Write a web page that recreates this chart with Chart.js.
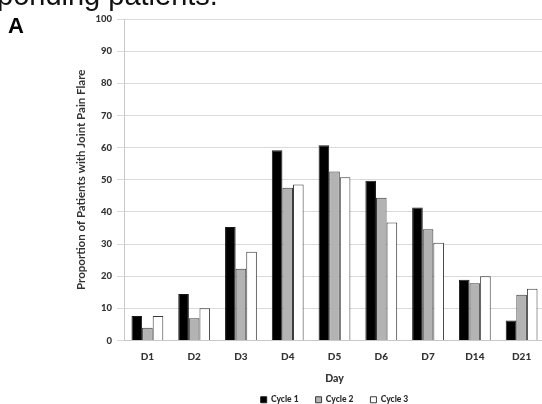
<!DOCTYPE html>
<html>
<head>
<meta charset="utf-8">
<script src="https://cdn.jsdelivr.net/npm/chart.js@4.4.1/dist/chart.umd.min.js"></script>
<style>
  html, body { margin: 0; padding: 0; background: #fff; width: 542px; height: 404px; overflow: hidden; }
  #wrap { position: absolute; left: 0; top: 0; width: 548px; height: 414px; }
  #cap { position: absolute; left: -3px; top: -19px; font-family: "Liberation Sans", Arial, sans-serif; font-size: 29px; color: #111; white-space: nowrap; line-height: 29px; }
  #lab { position: absolute; left: 8px; top: 14.5px; font-family: "Liberation Sans", Arial, sans-serif; font-weight: bold; font-size: 22px; color: #000; line-height: 22px; }
</style>
</head>
<body>
<div id="wrap"><canvas id="c" width="548" height="414"></canvas></div>
<div id="cap">ponding patients.</div>
<div id="lab">A</div>
<script>
const categories = ["D1", "D2", "D3", "D4", "D5", "D6", "D7", "D14", "D21"];
const cycle1 = [7.6, 14.5, 35.3, 59.2, 60.7, 49.7, 41.4, 18.9, 6.2];
const cycle2 = [4.0, 6.9, 22.3, 47.5, 52.6, 44.4, 34.6, 17.8, 14.2];
const cycle3 = [7.6, 10.0, 27.6, 48.5, 50.8, 36.7, 30.4, 20.0, 16.1];
const seriesNames = ["Cycle 1", "Cycle 2", "Cycle 3"];
const yTicks = [0, 10, 20, 30, 40, 50, 60, 70, 80, 90, 100];

const FONT = "Lato";

// centre the legend under the plot area instead of the whole canvas
const legendUnderPlot = {
  id: "legendUnderPlot",
  afterLayout(chart) {
    const lg = chart.legend;
    if (!lg) return;
    lg.left = chart.chartArea.left;
    lg.right = chart.chartArea.right;
  }
};

const chart = new Chart(document.getElementById("c"), {
  type: "bar",
  data: {
    labels: categories,
    datasets: [
      { label: seriesNames[0], data: cycle1, backgroundColor: "#000000", borderColor: "#1a1a1a", borderWidth: 1 },
      { label: seriesNames[1], data: cycle2, backgroundColor: "#b3b3b3", borderColor: "#3a3a3a", borderWidth: 1 },
      { label: seriesNames[2], data: cycle3, backgroundColor: "#ffffff", borderColor: "#3a3a3a", borderWidth: 1 }
    ]
  },
  plugins: [legendUnderPlot],
  options: {
    responsive: false,
    animation: false,
    devicePixelRatio: 1,
    layout: { padding: { top: 19, right: 3, bottom: 0, left: 0 } },
    datasets: { bar: { categoryPercentage: 0.68, barPercentage: 1.0 } },
    plugins: {
      tooltip: { enabled: false },
      legend: {
        position: "bottom",
        labels: {
          boxWidth: 6, boxHeight: 6, padding: 17,
          color: "#2a2a2a", font: { family: FONT, size: 8.5, weight: "900" }
        }
      }
    },
    scales: {
      x: {
        grid: { display: false, drawTicks: false },
        border: { color: "#c8c8c8", width: 1 },
        ticks: { color: "#333", font: { family: FONT, size: 10, weight: "900" }, padding: 10 },
        title: { display: true, text: "Day", color: "#333", font: { family: FONT, size: 10.5, weight: "900" }, padding: { top: 0, bottom: -6 } },
        afterFit: (s) => { s.height = 38; }
      },
      y: {
        min: 0, max: 100,
        afterBuildTicks: (s) => { s.ticks = yTicks.map(v => ({ value: v })); },
        grid: { color: "#d9d9d9", lineWidth: 1, tickLength: 7, tickColor: "#d9d9d9" },
        border: { color: "#c8c8c8", width: 1 },
        ticks: { color: "#333", font: { family: FONT, size: 9.5, weight: "900" }, padding: 5 },
        title: { display: true, text: "Proportion of Patients with Joint Pain Flare", color: "#333", font: { family: FONT, size: 11.5, weight: "bold" }, padding: { top: 74, bottom: 0 } },
        afterFit: (s) => { s.width = 124; }
      }
    }
  }
});
</script>
</body>
</html>
